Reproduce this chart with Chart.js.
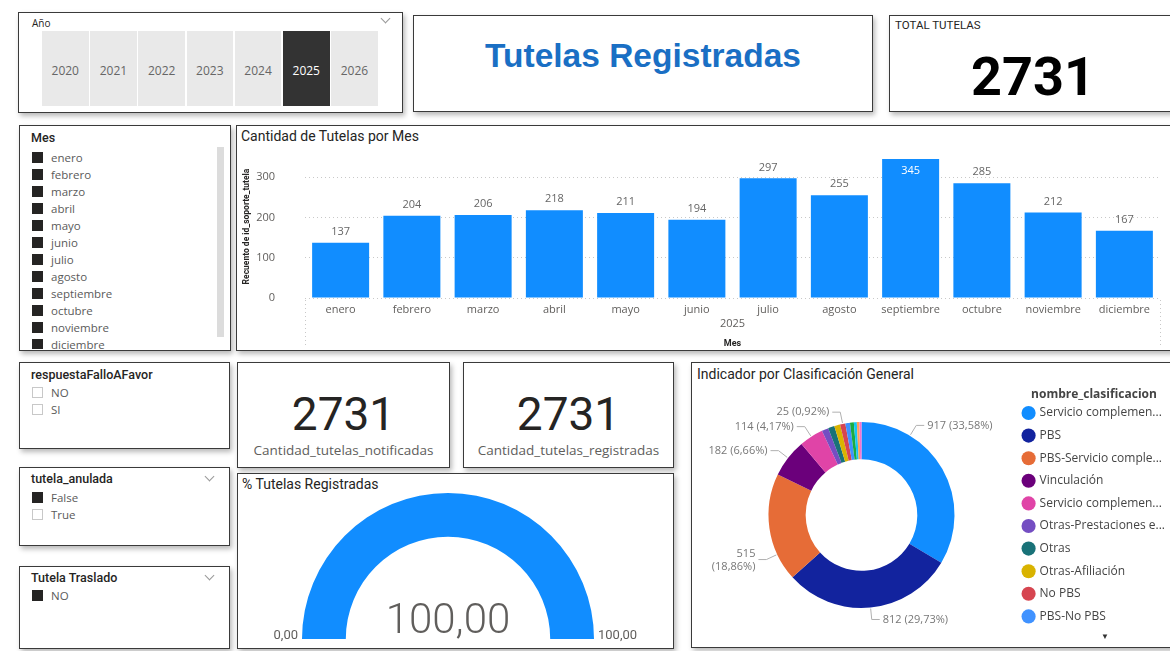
<!DOCTYPE html>
<html lang="es">
<head>
<meta charset="utf-8">
<title>Tutelas Registradas</title>
<script src="https://cdn.jsdelivr.net/npm/chart.js@4.4.1/dist/chart.umd.min.js"></script>
<style>
  html, body { margin: 0; padding: 0; }
  body {
    width: 1170px; height: 651px; position: relative; overflow: hidden;
    background: #fff; font-family: "Open Sans", "Noto Sans", sans-serif; color: #252423;
  }
  .panel {
    position: absolute; background: #fff; box-sizing: border-box;
    border: 1px solid #3a3a3a; box-shadow: 2px 3px 5px rgba(0, 0, 0, 0.28);
  }
  .vtitle { position: absolute; font-family: Roboto, "Noto Sans", sans-serif; font-size: 14px; color: #252423; white-space: nowrap; }
  .stitle { position: absolute; font-family: Roboto, "Noto Sans", sans-serif; font-size: 12.5px; font-weight: 500; color: #252423; white-space: nowrap; }
  .chev { position: absolute; width: 6px; height: 6px; border-right: 1px solid #999; border-bottom: 1px solid #999; transform: rotate(45deg); }
  .item { position: absolute; font-size: 11.5px; color: #5a5a5a; white-space: nowrap; line-height: 17px; }
  .box { position: absolute; width: 11px; height: 11px; box-sizing: border-box; }
  .box.on { background: #252423; }
  .box.off { border: 1px solid #c8c8c8; background: #fff; }
  .yearbtn { position: absolute; top: 31px; height: 75px; background: #e9e9e9; color: #666; font-size: 12px;
             display: flex; align-items: center; justify-content: center; padding-top: 3px; box-sizing: border-box; }
  .yearbtn.sel { background: #333; color: #fff; }
  .bignum { position: absolute; font-family: Roboto, "Noto Sans", sans-serif; font-size: 46px; color: #252423; line-height: 1; text-align: center; }
  .cardlbl { position: absolute; font-size: 13.5px; color: #605e5c; text-align: center; white-space: nowrap; }
  canvas { position: absolute; }
</style>
</head>
<body>

<!-- Año slicer -->
<div class="panel" style="left:18px; top:12px; width:385px; height:101px;"></div>
<div style="position:absolute; left:32px; top:16px; font-size:10px; color:#252423;">Año</div>
<div class="chev" style="left:382px; top:15px;"></div>
<div id="anios"></div>

<!-- Título -->
<div class="panel" style="left:413px; top:15px; width:460px; height:97px;"></div>
<div style="position:absolute; left:413px; top:37px; width:460px; text-align:center; font-family:'Liberation Sans', Arial, sans-serif; font-weight:bold; font-size:33.5px; color:#1a6fc4;">Tutelas Registradas</div>

<!-- Total -->
<div class="panel" style="left:889px; top:15px; width:290px; height:97px;"></div>
<div style="position:absolute; left:895px; top:18px; font-family:Roboto, sans-serif; font-size:11.5px; color:#252423;">TOTAL TUTELAS</div>
<div id="totalTutelas" class="bignum" style="left:889px; top:50px; width:288px; font-weight:bold; font-size:54px; color:#000;"></div>

<!-- Mes slicer -->
<div class="panel" style="left:19px; top:125px; width:212px; height:226px;"></div>
<div class="stitle" style="left:31px; top:130px;">Mes</div>
<div style="position:absolute; left:217px; top:147px; width:7px; height:190px; background:#dcdcdc;"></div>
<div id="listaMeses" style="position:absolute; left:20px; top:149px; width:195px; height:200px; overflow:hidden;"></div>

<!-- Barras por mes -->
<div class="panel" style="left:236px; top:125px; width:940px; height:226px;"></div>
<div class="vtitle" style="left:241px; top:128px;">Cantidad de Tutelas por Mes</div>
<canvas id="barrasMes" width="930" height="203" style="left:238px; top:146px;"></canvas>

<!-- respuestaFalloAFavor -->
<div class="panel" style="left:19px; top:362px; width:211px; height:87px;"></div>
<div class="stitle" style="left:31px; top:367px;">respuestaFalloAFavor</div>
<div id="listaFallo"></div>

<!-- tutela_anulada -->
<div class="panel" style="left:19px; top:467px; width:211px; height:79px;"></div>
<div class="stitle" style="left:31px; top:471px;">tutela_anulada</div>
<div class="chev" style="left:206px; top:473px;"></div>
<div id="listaAnulada"></div>

<!-- Tutela Traslado -->
<div class="panel" style="left:19px; top:566px; width:211px; height:83px;"></div>
<div class="stitle" style="left:31px; top:570px;">Tutela Traslado</div>
<div class="chev" style="left:206px; top:572px;"></div>
<div id="listaTraslado"></div>

<!-- Tarjetas -->
<div class="panel" style="left:237px; top:362px; width:213px; height:106px;"></div>
<div id="numNotificadas" class="bignum" style="left:237px; top:391px; width:213px;"></div>
<div class="cardlbl" style="left:237px; top:441px; width:213px;">Cantidad_tutelas_notificadas</div>

<div class="panel" style="left:463px; top:362px; width:211px; height:106px;"></div>
<div id="numRegistradas" class="bignum" style="left:463px; top:391px; width:211px;"></div>
<div class="cardlbl" style="left:463px; top:441px; width:211px;">Cantidad_tutelas_registradas</div>

<!-- Medidor -->
<div class="panel" style="left:237px; top:473px; width:437px; height:176px;"></div>
<div class="vtitle" style="left:242px; top:476px;">% Tutelas Registradas</div>
<canvas id="medidor" width="434" height="154" style="left:238px; top:492px;"></canvas>

<!-- Dona por clasificación -->
<div class="panel" style="left:691px; top:362px; width:490px; height:286px;"></div>
<div class="vtitle" style="left:697px; top:366px;">Indicador por Clasificación General</div>
<canvas id="donaClasificacion" width="483" height="290" style="left:692px; top:370px;"></canvas>
<div style="position:absolute; left:1101px; top:630px; font-size:8px; color:#333;">&#9660;</div>

<script>
// ---- datos ----
const anios = ['2020', '2021', '2022', '2023', '2024', '2025', '2026'];
const anioSeleccionado = '2025';

const meses = ['enero', 'febrero', 'marzo', 'abril', 'mayo', 'junio', 'julio',
               'agosto', 'septiembre', 'octubre', 'noviembre', 'diciembre'];
const tutelasPorMes = [137, 204, 206, 218, 211, 194, 297, 255, 345, 285, 212, 167];
const ticksRecuento = [0, 100, 200, 300];

const clasificaciones = [
  'Servicio complementario', 'PBS', 'PBS-Servicio complementario', 'Vinculación',
  'Servicio complementario-PBS', 'Otras-Prestaciones económicas', 'Otras', 'Otras-Afiliación',
  'No PBS', 'PBS-No PBS', 'Otras-Traslados', 'Otras-Movilidad', 'PBS-Afiliación', 'Otras-Tecnologías'
];
const tutelasPorClasificacion = [917, 812, 515, 182, 114, 32, 30, 28, 25, 22, 18, 14, 12, 10];
const coloresClasificacion = [
  '#118DFF', '#12239E', '#E66C37', '#6B007B', '#E044A7', '#744EC2', '#197278',
  '#D9B300', '#D64550', '#4092FF', '#1AAB40', '#15C6F4', '#FFA058', '#F472D0'
];
// índice de la porción y posición (fracción del arco) de su etiqueta
const etiquetasDona = [
  { i: 0, f: 0.26 }, { i: 1, f: 0.5 }, { i: 2, f: 0.25 },
  { i: 3, f: 0.5 }, { i: 4, f: 0.5 }, { i: 8, f: 0.5 }
];

const opcionesFallo = ['NO', 'SI'];
const opcionesAnulada = ['False', 'True'];
const anuladaMarcada = ['False'];
const opcionesTraslado = ['NO'];

const porcentajeMin = 0;
const porcentajeMax = 100;

// ---- utilidades ----
const fmt = (v, d) => v.toLocaleString('es-ES', { minimumFractionDigits: d, maximumFractionDigits: d, useGrouping: false });
const total = tutelasPorMes.reduce((a, b) => a + b, 0);
const totalRegistradas = tutelasPorClasificacion.reduce((a, b) => a + b, 0);
const porcentajeRegistradas = totalRegistradas / total * 100;

document.getElementById('totalTutelas').textContent = total;
document.getElementById('numNotificadas').textContent = total;
document.getElementById('numRegistradas').textContent = totalRegistradas;

// botones de año
const anioBox = document.getElementById('anios');
anios.forEach((a, i) => {
  const b = document.createElement('div');
  b.className = 'yearbtn' + (a === anioSeleccionado ? ' sel' : '');
  b.style.left = (42 + i * 48.2) + 'px';
  b.style.width = '46.5px';
  b.textContent = a;
  anioBox.appendChild(b);
});

// listas de los segmentadores
function lista(contenedor, items, marcados, x, y0) {
  items.forEach((txt, i) => {
    const y = y0 + i * 17;
    const sq = document.createElement('div');
    sq.className = 'box ' + (marcados.includes(txt) ? 'on' : 'off');
    sq.style.left = x + 'px';
    sq.style.top = (y + 3) + 'px';
    const t = document.createElement('div');
    t.className = 'item';
    t.style.left = (x + 19) + 'px';
    t.style.top = y + 'px';
    t.textContent = txt;
    contenedor.appendChild(sq);
    contenedor.appendChild(t);
  });
}
lista(document.getElementById('listaMeses'), meses, meses, 12, 0);
lista(document.getElementById('listaFallo'), opcionesFallo, [], 32, 384);
lista(document.getElementById('listaAnulada'), opcionesAnulada, anuladaMarcada, 32, 489);
lista(document.getElementById('listaTraslado'), opcionesTraslado, opcionesTraslado, 32, 587);

Chart.defaults.font.family = '"Open Sans", "Noto Sans", sans-serif';
Chart.defaults.animation = false;

// etiquetas de valor sobre las barras y bordes del grupo de año
const etiquetasBarras = {
  id: 'etiquetasBarras',
  afterDatasetsDraw(chart) {
    const { ctx, chartArea } = chart;
    const meta = chart.getDatasetMeta(0);
    const valores = chart.data.datasets[0].data;
    ctx.save();
    ctx.font = '11px "Open Sans", sans-serif';
    ctx.textAlign = 'center';
    ctx.textBaseline = 'middle';
    meta.data.forEach((bar, i) => {
      let y = bar.y - 11;
      if (y - 7 < chartArea.top) {
        y = bar.y + 12;
        ctx.fillStyle = '#fff';
      } else {
        ctx.fillStyle = '#666';
      }
      ctx.fillText(valores[i], bar.x, y);
    });
    const xs = chart.scales.x;
    const x2 = chart.scales.x2;
    ctx.strokeStyle = '#c8c8c8';
    ctx.setLineDash([1, 3]);
    [xs.left, xs.right].forEach(px => {
      ctx.beginPath();
      ctx.moveTo(px + 0.5, chartArea.bottom + 2);
      ctx.lineTo(px + 0.5, x2.bottom - 2);
      ctx.stroke();
    });
    ctx.restore();
  }
};

new Chart(document.getElementById('barrasMes'), {
  type: 'bar',
  data: {
    labels: meses,
    datasets: [{
      data: tutelasPorMes,
      backgroundColor: '#118DFF',
      barPercentage: 0.8,
      categoryPercentage: 1.0
    }]
  },
  options: {
    responsive: false,
    layout: { autoPadding: false, padding: { left: 4, right: 8, top: 9, bottom: 0 } },
    plugins: { legend: { display: false }, tooltip: { enabled: false } },
    scales: {
      x: {
        grid: { display: false, drawTicks: false },
        border: { display: false },
        ticks: { color: '#605e5c', font: { size: 11 }, padding: 5, maxRotation: 0 },
        afterFit: axis => { axis.height = 18; }
      },
      x2: {
        type: 'category',
        labels: ['2025'],
        position: 'bottom',
        grid: { display: false, drawTicks: false },
        border: { display: false },
        ticks: { color: '#605e5c', font: { size: 11 }, padding: 1, maxRotation: 0 },
        title: {
          display: true, text: 'Mes', color: '#252423',
          font: { size: 9, weight: 'bold', family: 'Roboto, sans-serif' },
          padding: { top: 3, bottom: 0 }
        },
        afterFit: axis => { axis.height = 33; }
      },
      y: {
        min: 0,
        max: 355,
        afterBuildTicks: axis => { axis.ticks = ticksRecuento.map(v => ({ value: v })); },
        grid: { color: '#c8c8c8', drawTicks: false },
        border: { display: false, dash: [1, 3] },
        ticks: { color: '#605e5c', font: { size: 11 }, padding: 30 },
        title: {
          display: true, text: 'Recuento de id_soporte_tutela', color: '#252423',
          font: { size: 8.5, weight: 'bold', family: 'Roboto, sans-serif' },
          padding: { top: 0, bottom: 2 }
        },
        afterFit: axis => {
          axis.width = 63;
          axis.paddingTop = 0;
          axis.paddingBottom = 0;
        }
      }
    }
  },
  plugins: [etiquetasBarras]
});

// medidor semicircular
const textoMedidor = {
  id: 'textoMedidor',
  afterDraw(chart) {
    const { ctx } = chart;
    const arc = chart.getDatasetMeta(0).data[0];
    ctx.save();
    ctx.fillStyle = '#605e5c';
    ctx.textAlign = 'center';
    ctx.textBaseline = 'alphabetic';
    ctx.font = '300 42px Roboto, sans-serif';
    ctx.fillText(fmt(porcentajeRegistradas, 2), arc.x, arc.y - 6);
    ctx.font = '13px Roboto, sans-serif';
    ctx.textAlign = 'right';
    ctx.fillText(fmt(porcentajeMin, 2), arc.x - arc.outerRadius - 4, arc.y);
    ctx.textAlign = 'left';
    ctx.fillText(fmt(porcentajeMax, 2), arc.x + arc.outerRadius + 4, arc.y);
    ctx.restore();
  }
};

new Chart(document.getElementById('medidor'), {
  type: 'doughnut',
  data: {
    datasets: [{
      data: [porcentajeRegistradas - porcentajeMin, porcentajeMax - porcentajeRegistradas],
      backgroundColor: ['#118DFF', '#E6E6E6'],
      borderWidth: 0
    }]
  },
  options: {
    responsive: false,
    rotation: -90,
    circumference: 180,
    cutout: '70%',
    layout: { padding: { left: 64, right: 78, top: 1, bottom: 7 } },
    plugins: { legend: { display: false }, tooltip: { enabled: false } }
  },
  plugins: [textoMedidor]
});

// etiquetas externas de la dona con línea guía
const etiquetasExternas = {
  id: 'etiquetasExternas',
  afterDraw(chart) {
    const { ctx } = chart;
    const meta = chart.getDatasetMeta(0);
    const valores = chart.data.datasets[0].data;
    const suma = valores.reduce((a, b) => a + b, 0);
    ctx.save();
    ctx.font = '11px "Open Sans", sans-serif';
    ctx.textBaseline = 'middle';
    ctx.lineWidth = 1;
    etiquetasDona.forEach(({ i, f }) => {
      const arc = meta.data[i];
      const a = arc.startAngle + f * (arc.endAngle - arc.startAngle);
      const r = arc.outerRadius;
      const x0 = arc.x + Math.cos(a) * (r + 1);
      const y0 = arc.y + Math.sin(a) * (r + 1);
      const x1 = arc.x + Math.cos(a) * (r + 12);
      const y1 = arc.y + Math.sin(a) * (r + 12);
      const der = Math.cos(a) >= 0;
      const x2 = x1 + (der ? 8 : -8);
      ctx.strokeStyle = '#b0b0b0';
      ctx.beginPath();
      ctx.moveTo(x0, y0);
      ctx.lineTo(x1, y1);
      ctx.lineTo(x2, y1);
      ctx.stroke();
      const num = String(valores[i]);
      const pct = '(' + fmt(valores[i] / suma * 100, 2) + '%)';
      const texto = num + ' ' + pct;
      const tx = x2 + (der ? 3 : -3);
      ctx.fillStyle = '#777';
      ctx.textAlign = der ? 'left' : 'right';
      if (!der && tx - ctx.measureText(texto).width < 4) {
        ctx.fillText(num, tx, y1 - 6);
        ctx.fillText(pct, tx, y1 + 7);
      } else {
        ctx.fillText(texto, tx, y1);
      }
    });
    ctx.restore();
  }
};

function recortar(ctx, texto, ancho) {
  if (ctx.measureText(texto).width <= ancho) return texto;
  let t = texto;
  while (t.length > 1 && ctx.measureText(t + '...').width > ancho) t = t.slice(0, -1);
  return t.trimEnd() + '...';
}

new Chart(document.getElementById('donaClasificacion'), {
  type: 'doughnut',
  data: {
    labels: clasificaciones,
    datasets: [{
      data: tutelasPorClasificacion,
      backgroundColor: coloresClasificacion,
      borderWidth: 0,
      radius: 93,
      cutout: '60%'
    }]
  },
  options: {
    responsive: false,
    layout: { padding: { left: 18, right: 0, top: 0, bottom: 0 } },
    plugins: {
      tooltip: { enabled: false },
      legend: {
        position: 'right',
        align: 'start',
        title: {
          display: true, text: 'nombre_clasificacion', color: '#444',
          font: { size: 12, weight: 'bold' },
          padding: { top: 19, bottom: -7 }
        },
        labels: {
          usePointStyle: true,
          pointStyle: 'circle',
          boxWidth: 10,
          boxHeight: 10,
          padding: 10.6,
          color: '#444',
          font: { size: 12 },
          filter: item => item.index < 10,
          generateLabels(chart) {
            const items = Chart.overrides.doughnut.plugins.legend.labels.generateLabels(chart);
            const ctx = chart.ctx;
            ctx.save();
            ctx.font = '12px "Open Sans", sans-serif';
            items.forEach(it => { it.text = recortar(ctx, it.text, 126); });
            ctx.restore();
            return items;
          }
        }
      }
    }
  },
  plugins: [etiquetasExternas]
});
</script>
</body>
</html>
